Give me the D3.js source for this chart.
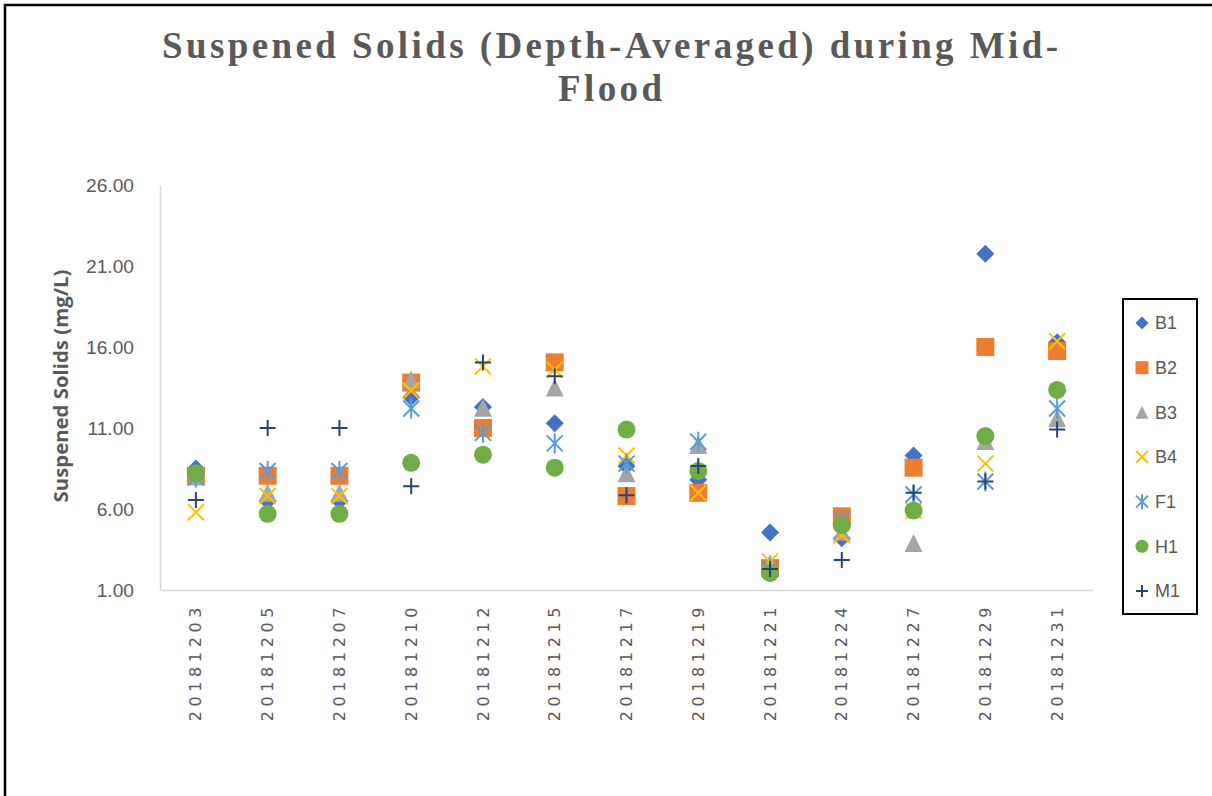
<!DOCTYPE html>
<html>
<head>
<meta charset="utf-8">
<script src="https://cdn.jsdelivr.net/npm/d3@7"></script>
<style>
  body { margin: 0; background: #fff; }
  svg { display: block; }
</style>
</head>
<body>
<div id="chart"></div>
<script>
// Data
const dates = ["20181203", "20181205", "20181207", "20181210", "20181212", "20181215", "20181217",
  "20181219", "20181221", "20181224", "20181227", "20181229", "20181231"];
const seriesNames = ["B1", "B2", "B3", "B4", "F1", "H1", "M1"];
const B1 = [8.5, 6.5, 6.5, 12.9, 12.3, 11.3, 8.65, 7.8, 4.55, 4.2, 9.3, 21.75, 16.3];
const B2 = [8.05, 8.05, 8.05, 13.8, 11.0, 15.05, 6.8, 7.0, 2.35, 5.55, 8.55, 16.0, 15.75];
const B3 = [8.0, 7.0, 7.0, 14.0, 12.25, 13.5, 8.2, 9.95, 2.65, 4.6, 3.9, 10.2, 11.6];
const B4 = [5.8, 6.8, 6.8, 13.3, 14.8, 14.6, 9.3, 7.0, 2.75, 4.4, 5.9, 8.8, 16.35];
const F1 = [7.95, 8.35, 8.35, 12.2, 10.7, 10.05, 8.8, 10.15, 2.3, 5.35, 6.9, 7.7, 12.2];
const H1 = [8.2, 5.7, 5.7, 8.85, 9.35, 8.55, 10.9, 8.35, 2.05, 5.0, 5.9, 10.5, 13.35];
const M1 = [6.55, 11.0, 11.0, 7.4, 15.05, 14.2, 6.85, 8.65, 2.3, 2.85, 7.0, 7.7, 10.9];
const yTicks = [1, 6, 11, 16, 21, 26];

const seriesValues = [B1, B2, B3, B4, F1, H1, M1];
const colors = ["#4472C4", "#ED7D31", "#A5A5A5", "#FFC000", "#5B9BD5", "#70AD47", "#264478"];
const shapes = ["diamond", "square", "triangle", "x", "star", "circle", "plus"];

// Dimensions
const W = 1212, H = 796;
const plot = { left: 160, right: 1093, top: 185, bottom: 590 };

const svg = d3.select("#chart").append("svg")
  .attr("width", W)
  .attr("height", H);

// Outer frame (right and bottom edges fall outside the picture)
svg.append("path")
  .attr("d", `M5,${H + 5} V5 H${W + 5}`)
  .attr("fill", "none")
  .attr("stroke", "#000")
  .attr("stroke-width", 2.5);

// Scales
const x = d3.scaleBand().domain(dates).range([plot.left, plot.right]);
const y = d3.scaleLinear().domain([1, 26]).range([plot.bottom, plot.top]);

// Marker paths
function markerPath(type, s) {
  switch (type) {
    case "diamond": return `M0,${-s}L${s},0L0,${s}L${-s},0Z`;
    case "square": return `M${-s},${-s}H${s}V${s}H${-s}Z`;
    case "triangle": return `M0,${-s}L${s},${s}L${-s},${s}Z`;
    case "x": return `M${-s},${-s}L${s},${s}M${s},${-s}L${-s},${s}`;
    case "star": return `M${-s},${-s}L${s},${s}M${s},${-s}L${-s},${s}M0,${-s * 1.25}V${s * 1.25}`;
    case "plus": return `M${-s},0H${s}M0,${-s}V${s}`;
    case "circle": return d3.symbol(d3.symbolCircle, Math.PI * s * s)();
  }
}
const isStroke = t => t === "x" || t === "star" || t === "plus";

// scale a text's font so that its width matches what the picture shows
function fitFont(node, size, target) {
  const w = node.getComputedTextLength();
  return w > 0 ? size * target / w : size;
}

// Y axis
const yAxis = svg.append("g")
  .attr("transform", `translate(${plot.left},0)`)
  .call(d3.axisLeft(y).tickValues(yTicks).tickFormat(d3.format(".2f")).tickSize(0).tickPadding(26));
yAxis.select(".domain").attr("stroke", "#d9d9d9").attr("stroke-width", 1.5);
const yLabels = yAxis.selectAll("text")
  .attr("fill", "#595959")
  .style("font-family", "'Liberation Sans', Arial, sans-serif")
  .style("font-size", "18px");
const yFont = fitFont(yLabels.filter(d => d === 26).node(), 18, 48);
yLabels.style("font-size", yFont + "px");

// X axis
const xAxis = svg.append("g")
  .attr("transform", `translate(0,${plot.bottom})`)
  .call(d3.axisBottom(x).tickSize(0));
xAxis.select(".domain").attr("stroke", "#d9d9d9").attr("stroke-width", 1.5);
xAxis.selectAll("text")
  .attr("fill", "#595959")
  .attr("transform", "rotate(-90)")
  .attr("text-anchor", "end")
  .attr("x", -13)
  .attr("y", 0)
  .attr("dy", "0.35em")
  .style("letter-spacing", "4.6px")
  .style("font-family", "'DejaVu Sans', sans-serif")
  .style("font-size", "16px");

// Y axis title
const yTitle = svg.append("text")
  .attr("transform", "translate(68,386) rotate(-90)")
  .attr("text-anchor", "middle")
  .attr("fill", "#595959")
  .style("font-family", "'Open Sans', sans-serif")
  .style("font-weight", "bold")
  .style("font-size", "16.5px")
  .text("Suspened Solids (mg/L)");
yTitle.style("font-size", fitFont(yTitle.node(), 16.5, 233) + "px");

// Points
seriesValues.forEach((vals, si) => {
  const t = shapes[si];
  const s = isStroke(t) ? 8 : 9;
  svg.append("g").selectAll("path")
    .data(vals)
    .enter()
    .append("path")
    .attr("transform", (d, i) => `translate(${x(dates[i]) + x.bandwidth() / 2},${y(d)})`)
    .attr("d", markerPath(t, s))
    .attr("fill", isStroke(t) ? "none" : colors[si])
    .attr("stroke", isStroke(t) ? colors[si] : "none")
    .attr("stroke-width", 2);
});

// Title
const title = svg.append("g").attr("fill", "#595959")
  .style("font-family", "'Liberation Serif', 'Times New Roman', serif")
  .style("font-weight", "bold")
  .style("font-size", "37px");
const t1 = title.append("text")
  .attr("x", 610).attr("y", 58)
  .attr("text-anchor", "middle")
  .text("Suspened Solids (Depth-Averaged) during Mid-");
const t2 = title.append("text")
  .attr("x", 610).attr("y", 101)
  .attr("text-anchor", "middle")
  .text("Flood");
const natural = t1.node().getComputedTextLength();
const ls = (896 - natural) / 43;
t1.style("letter-spacing", ls + "px").attr("x", 610 + ls / 2);
t2.style("letter-spacing", ls + "px").attr("x", 610 + ls / 2);

// Legend
const legend = svg.append("g");
legend.append("rect")
  .attr("x", 1123).attr("y", 299)
  .attr("width", 74).attr("height", 315)
  .attr("fill", "#fff")
  .attr("stroke", "#000")
  .attr("stroke-width", 2);
const ly = d3.scalePoint().domain(seriesNames).range([323, 591]);
seriesNames.forEach((name, si) => {
  const t = shapes[si];
  legend.append("path")
    .attr("transform", `translate(1142,${ly(name)})`)
    .attr("d", markerPath(t, isStroke(t) ? 6 : 6.5))
    .attr("fill", isStroke(t) ? "none" : colors[si])
    .attr("stroke", isStroke(t) ? colors[si] : "none")
    .attr("stroke-width", 2);
  legend.append("text")
    .attr("x", 1155).attr("y", ly(name))
    .attr("dy", "0.35em")
    .attr("fill", "#595959")
    .style("font-family", "'Liberation Sans', Arial, sans-serif")
    .style("font-size", "18px")
    .text(name);
});
</script>
</body>
</html>
